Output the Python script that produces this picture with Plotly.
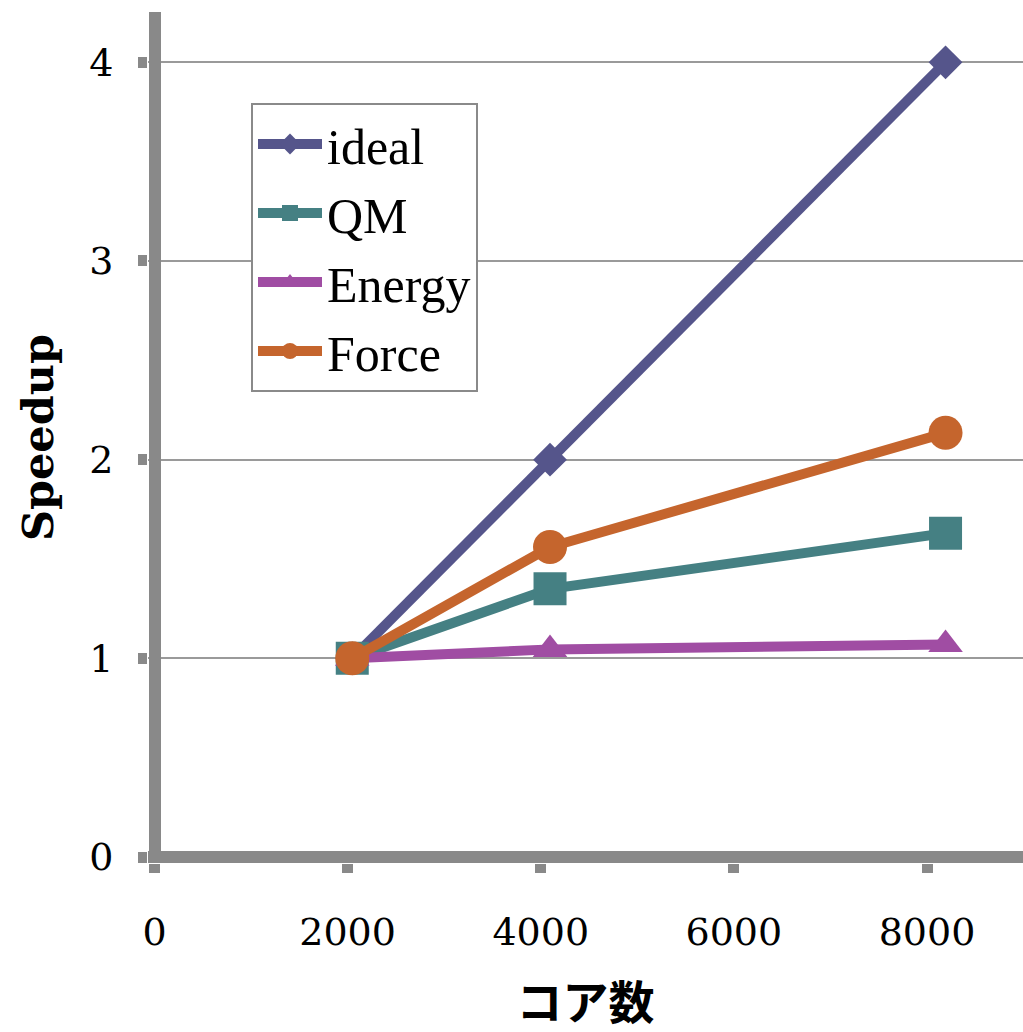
import plotly.graph_objects as go

cores = [2048, 4096, 8192]
ideal = [1, 2, 4]
qm = [1, 1.35, 1.63]
energy = [1, 1.045, 1.07]
force = [1, 1.56, 2.135]

series = [
    ("ideal", ideal, "#55558B", "diamond", 26),
    ("QM", qm, "#458083", "square", 33),
    ("Energy", energy, "#A04DA3", "triangle-up", 30),
    ("Force", force, "#C5652D", "circle", 34),
]

x_ticks = [0, 2000, 4000, 6000, 8000]
y_ticks = [0, 1, 2, 3, 4]

fig = go.Figure()
for i, (name, vals, color, sym, size) in enumerate(series):
    fig.add_trace(go.Scatter(
        x=cores, y=vals, name=name, mode="lines+markers",
        legendgroup=f"g{i}",
        line=dict(color=color, width=10),
        marker=dict(symbol=sym, size=size, color=color, line=dict(width=0)),
    ))

W, H = 1023, 1032
L, R, T, B = 148, 0, 12, 169
pxx = (927 - 154.5) / 8000.0
pxy = (857 - 62.3) / 4.0
x0 = -(154.5 - L) / pxx
x1 = x0 + (W - L - R) / pxx
y0 = -((H - B) - 857) / pxy
y1 = y0 + (H - T - B) / pxy

axis_col = "#898989"
fig.update_layout(
    width=W, height=H,
    margin=dict(l=L, r=R, t=T, b=B, pad=0),
    paper_bgcolor="white", plot_bgcolor="white",
    font=dict(family="DejaVu Serif", color="black"),
    showlegend=True,
    legend=dict(
        x=(251 - L) / (W - L - R), y=((H - B) - 103) / (H - T - B),
        xanchor="left", yanchor="top",
        bordercolor="#8a8a8a", borderwidth=2, bgcolor="white",
        font=dict(family="Liberation Serif", size=50, color="black"),
        tracegroupgap=1, itemwidth=64,
    ),
    xaxis=dict(
        range=[x0, x1], tickvals=x_ticks, ticktext=[str(v) for v in x_ticks],
        showline=False,
        zeroline=True, zerolinecolor=axis_col, zerolinewidth=12,
        ticks="outside", ticklen=9, tickwidth=11, tickcolor=axis_col,
        showgrid=False,
        tickfont=dict(family="DejaVu Serif", size=38, color="black"),
        ticklabelstandoff=26,
        title=dict(text="<b>コア数</b>", standoff=38,
                   font=dict(family="Noto Sans CJK JP", size=46, color="black")),
    ),
    yaxis=dict(
        range=[y0, y1], tickvals=y_ticks, ticktext=[str(v) for v in y_ticks],
        showline=False,
        zeroline=True, zerolinecolor=axis_col, zerolinewidth=12,
        ticks="outside", ticklen=9, tickwidth=11, tickcolor=axis_col,
        showgrid=True, gridcolor="#9a9a9a", gridwidth=2,
        tickfont=dict(family="DejaVu Serif", size=38, color="black"),
        ticklabelstandoff=17,
        title=dict(text="<b>Speedup</b>", standoff=22,
                   font=dict(family="DejaVu Serif", size=43, color="black")),
    ),
)

fig.write_html("out.html")
